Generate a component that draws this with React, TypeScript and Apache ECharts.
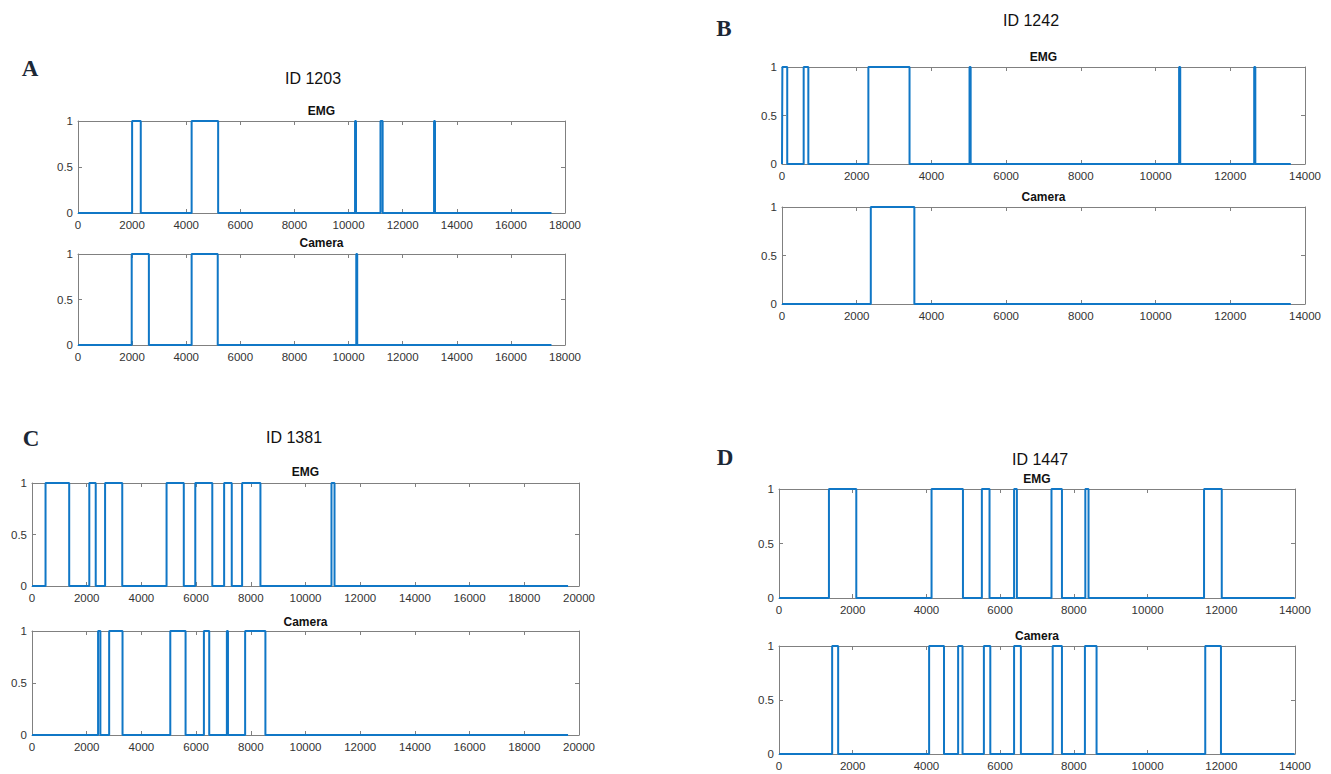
import React, { useEffect, useRef } from "react";
import * as echarts from "echarts";

// ---- Data: intervals [start, end] where the signal is 1 ----
const A_EMG_ON = [[2000, 2320], [4200, 5180], [10240, 10275], [11180, 11260], [13160, 13195]];
const A_CAM_ON = [[1985, 2620], [4200, 5165], [10285, 10320]];
const A_END = 17500;

const B_EMG_ON = [[10, 140], [580, 705], [2312, 3414], [5020, 5050], [10630, 10660], [12640, 12670]];
const B_CAM_ON = [[2377, 3543]];
const B_END = 13620;

const C_EMG_ON = [[495, 1360], [2095, 2330], [2672, 3300], [4920, 5550], [5970, 6592], [7025, 7304], [7682, 8352], [10950, 11061]];
const C_CAM_ON = [[2416, 2500], [2821, 3310], [5056, 5615], [6285, 6480], [7125, 7165], [7793, 8534]];
const C_END = 19600;

const D_EMG_ON = [[1355, 2097], [4139, 4991], [5504, 5712], [6378, 6454], [7393, 7677], [8311, 8398], [11532, 12013]];
const D_CAM_ON = [[1442, 1605], [4073, 4477], [4860, 4980], [5559, 5733], [6378, 6563], [7426, 7677], [8300, 8616], [11565, 11991]];
const D_END = 13990;

const X_MAX = [18000, 14000, 20000, 14000];
const X_STEP = 2000;
const Y_TICKS = [0, 0.5, 1];
const PANEL_LETTERS = ["A", "B", "C", "D"];
const PANEL_TITLES = ["ID 1203", "ID 1242", "ID 1381", "ID 1447"];
const SUB_TITLES = ["EMG", "Camera"];

function toStep(on: number[][], end: number): number[][] {
  const pts: number[][] = [[0, 0]];
  for (const [s, e] of on) {
    pts.push([s, 0], [s, 1], [e, 1], [e, 0]);
  }
  pts.push([end, 0]);
  return pts;
}

const SIGNALS = [
  [toStep(A_EMG_ON, A_END), toStep(A_CAM_ON, A_END)],
  [toStep(B_EMG_ON, B_END), toStep(B_CAM_ON, B_END)],
  [toStep(C_EMG_ON, C_END), toStep(C_CAM_ON, C_END)],
  [toStep(D_EMG_ON, D_END), toStep(D_CAM_ON, D_END)],
];

// layout (pixels)
const GRIDS = [
  [{ left: 78, top: 121, width: 487, height: 92 }, { left: 78, top: 254, width: 487, height: 91 }],
  [{ left: 782, top: 67, width: 523, height: 97 }, { left: 782, top: 207, width: 523, height: 97 }],
  [{ left: 32, top: 483, width: 547, height: 103 }, { left: 32, top: 631, width: 547, height: 104 }],
  [{ left: 779, top: 489, width: 516, height: 109 }, { left: 779, top: 646, width: 516, height: 108 }],
];
const LETTER_POS = [[30, 68], [724, 28], [31, 438], [725, 457]];
const TITLE_POS = [[313, 78], [1031, 20], [294, 437], [1040, 459]];
const SUB_Y = [[111, 243], [57, 197], [472, 622], [479, 636]];

const BOX = "#808080";
const LINE = "#1077C6";
const SANS = "'Liberation Sans', Arial, Helvetica, sans-serif";

export default function App() {
  const ref = useRef<HTMLDivElement>(null);
  useEffect(() => {
    if (!ref.current) return;
    const chart = echarts.init(ref.current, undefined, { renderer: "svg" });
    const grid: any[] = [];
    const xAxis: any[] = [];
    const yAxis: any[] = [];
    const series: any[] = [];
    const graphic: any[] = [];
    let gi = 0;
    for (let p = 0; p < 4; p++) {
      for (let s = 0; s < 2; s++) {
        const g = GRIDS[p][s];
        grid.push({ ...g, containLabel: false });
        const axisLine = { show: true, onZero: false, lineStyle: { color: BOX, width: 1 } };
        const axisTick = { show: true, inside: true, length: 4, lineStyle: { color: BOX, width: 1 } };
        const xBase = {
          type: "value",
          gridIndex: gi,
          min: 0,
          max: X_MAX[p],
          interval: X_STEP,
          axisLine,
          axisTick,
          splitLine: { show: false },
        };
        xAxis.push({
          ...xBase,
          position: "bottom",
          axisLabel: {
            show: true,
            fontSize: 11.5,
            color: "#333",
            margin: 6,
            fontFamily: SANS,
            formatter: (v: number) => String(v),
          },
        });
        xAxis.push({ ...xBase, position: "top", axisLabel: { show: false } });
        const yBase = {
          type: "value",
          gridIndex: gi,
          min: Y_TICKS[0],
          max: Y_TICKS[Y_TICKS.length - 1],
          interval: Y_TICKS[1] - Y_TICKS[0],
          axisLine,
          axisTick,
          splitLine: { show: false },
        };
        yAxis.push({
          ...yBase,
          position: "left",
          axisLabel: {
            show: true,
            fontSize: 11.5,
            color: "#333",
            margin: 5,
            fontFamily: SANS,
            formatter: (v: number) => String(v),
          },
        });
        yAxis.push({ ...yBase, position: "right", axisLabel: { show: false } });
        series.push({
          type: "line",
          name: PANEL_TITLES[p] + " " + SUB_TITLES[s],
          xAxisIndex: gi * 2,
          yAxisIndex: gi * 2,
          data: SIGNALS[p][s],
          symbol: "none",
          showSymbol: false,
          clip: false,
          z: 5,
          lineStyle: { color: LINE, width: 2 },
        });
        graphic.push({
          type: "text",
          x: g.left + g.width / 2,
          y: SUB_Y[p][s],
          style: {
            text: SUB_TITLES[s],
            font: `bold 12px ${SANS}`,
            fill: "#111",
            textAlign: "center",
            textVerticalAlign: "middle",
          },
        });
        gi++;
      }
      graphic.push({
        type: "text",
        x: TITLE_POS[p][0],
        y: TITLE_POS[p][1],
        style: {
          text: PANEL_TITLES[p],
          font: `16px ${SANS}`,
          fill: "#111",
          textAlign: "center",
          textVerticalAlign: "middle",
        },
      });
      graphic.push({
        type: "text",
        x: LETTER_POS[p][0],
        y: LETTER_POS[p][1],
        style: {
          text: PANEL_LETTERS[p],
          font: `bold 23px 'Liberation Serif', 'DejaVu Serif', serif`,
          fill: "#1c2836",
          textAlign: "center",
          textVerticalAlign: "middle",
        },
      });
    }
    chart.setOption({
      animation: false,
      backgroundColor: "#ffffff",
      grid,
      xAxis,
      yAxis,
      series,
      graphic,
    });
    return () => chart.dispose();
  }, []);
  return (
    <div
      ref={ref}
      style={{ position: "fixed", left: 0, top: 0, width: 1331, height: 774, background: "#fff" }}
    />
  );
}
